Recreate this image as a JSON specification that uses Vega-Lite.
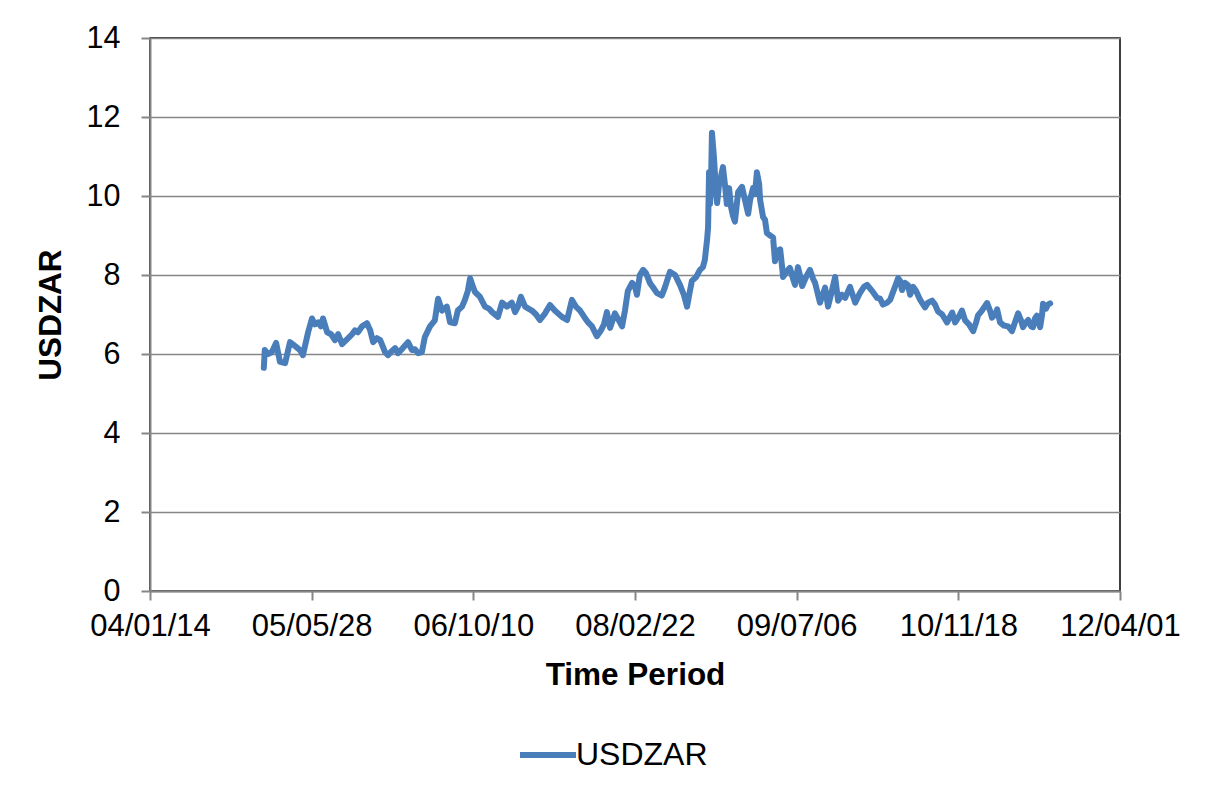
{
  "$schema": "https://vega.github.io/schema/vega-lite/v6.json",
  "width": 970,
  "height": 553,
  "autosize": {"type": "none"},
  "padding": {"left": 150, "top": 38, "right": 87, "bottom": 196},
  "background": "white",
  "config": {
    "font": "Liberation Sans",
    "view": {"stroke": "#000000", "strokeWidth": 1.5},
    "axis": {"labelColor": "#000000", "titleColor": "#000000", "labelFont": "Liberation Sans", "titleFont": "Liberation Sans"}
  },
  "data": {"values": [
    {"date":"2004-12-31","rate":5.65},{"date":"2005-01-03","rate":6.1},{"date":"2005-01-13","rate":6.0},{"date":"2005-01-25","rate":6.05},
    {"date":"2005-02-07","rate":6.28},{"date":"2005-02-19","rate":5.8},{"date":"2005-03-07","rate":5.77},{"date":"2005-03-22","rate":6.3},
    {"date":"2005-04-07","rate":6.2},{"date":"2005-04-22","rate":6.1},{"date":"2005-05-01","rate":5.97},{"date":"2005-05-17","rate":6.55},
    {"date":"2005-05-29","rate":6.9},{"date":"2005-06-07","rate":6.75},{"date":"2005-06-17","rate":6.8},{"date":"2005-06-26","rate":6.7},
    {"date":"2005-07-02","rate":6.9},{"date":"2005-07-15","rate":6.55},{"date":"2005-07-27","rate":6.5},{"date":"2005-08-08","rate":6.35},
    {"date":"2005-08-18","rate":6.5},{"date":"2005-08-30","rate":6.25},{"date":"2005-09-18","rate":6.4},{"date":"2005-09-30","rate":6.5},
    {"date":"2005-10-09","rate":6.6},{"date":"2005-10-18","rate":6.55},{"date":"2005-10-31","rate":6.7},{"date":"2005-11-15","rate":6.78},
    {"date":"2005-11-25","rate":6.6},{"date":"2005-12-04","rate":6.3},{"date":"2005-12-16","rate":6.4},{"date":"2005-12-26","rate":6.35},
    {"date":"2006-01-10","rate":6.05},{"date":"2006-01-19","rate":5.97},{"date":"2006-01-28","rate":6.05},{"date":"2006-02-10","rate":6.15},
    {"date":"2006-02-19","rate":6.02},{"date":"2006-03-06","rate":6.15},{"date":"2006-03-22","rate":6.3},{"date":"2006-04-03","rate":6.1},
    {"date":"2006-04-12","rate":6.12},{"date":"2006-04-22","rate":6.02},{"date":"2006-05-04","rate":6.05},{"date":"2006-05-13","rate":6.43},
    {"date":"2006-05-29","rate":6.7},{"date":"2006-06-13","rate":6.85},{"date":"2006-06-23","rate":7.4},{"date":"2006-07-05","rate":7.1},
    {"date":"2006-07-20","rate":7.2},{"date":"2006-07-30","rate":6.8},{"date":"2006-08-14","rate":6.78},{"date":"2006-08-23","rate":7.1},
    {"date":"2006-09-05","rate":7.2},{"date":"2006-09-14","rate":7.37},{"date":"2006-09-23","rate":7.6},{"date":"2006-09-30","rate":7.92},
    {"date":"2006-10-09","rate":7.7},{"date":"2006-10-15","rate":7.57},{"date":"2006-10-30","rate":7.45},{"date":"2006-11-15","rate":7.2},
    {"date":"2006-11-27","rate":7.15},{"date":"2006-12-07","rate":7.06},{"date":"2006-12-25","rate":6.94},{"date":"2007-01-07","rate":7.3},
    {"date":"2007-01-22","rate":7.2},{"date":"2007-02-06","rate":7.3},{"date":"2007-02-16","rate":7.06},{"date":"2007-02-25","rate":7.2},
    {"date":"2007-03-06","rate":7.45},{"date":"2007-03-19","rate":7.2},{"date":"2007-04-09","rate":7.1},{"date":"2007-04-22","rate":7.0},
    {"date":"2007-05-04","rate":6.86},{"date":"2007-05-20","rate":7.03},{"date":"2007-06-04","rate":7.24},{"date":"2007-06-19","rate":7.1},
    {"date":"2007-07-11","rate":6.94},{"date":"2007-07-27","rate":6.86},{"date":"2007-08-11","rate":7.37},{"date":"2007-08-23","rate":7.2},
    {"date":"2007-09-05","rate":7.1},{"date":"2007-09-17","rate":6.95},{"date":"2007-09-30","rate":6.8},{"date":"2007-10-12","rate":6.7},
    {"date":"2007-10-27","rate":6.45},{"date":"2007-11-09","rate":6.6},{"date":"2007-11-18","rate":6.75},{"date":"2007-11-27","rate":7.06},
    {"date":"2007-12-07","rate":6.66},{"date":"2007-12-22","rate":7.03},{"date":"2008-01-03","rate":6.85},{"date":"2008-01-13","rate":6.7},
    {"date":"2008-01-22","rate":7.1},{"date":"2008-01-31","rate":7.6},{"date":"2008-02-13","rate":7.8},{"date":"2008-02-22","rate":7.7},
    {"date":"2008-02-28","rate":7.5},{"date":"2008-03-08","rate":8.0},{"date":"2008-03-18","rate":8.13},{"date":"2008-03-27","rate":8.05},
    {"date":"2008-04-08","rate":7.8},{"date":"2008-04-21","rate":7.65},{"date":"2008-04-30","rate":7.54},{"date":"2008-05-15","rate":7.48},
    {"date":"2008-05-25","rate":7.7},{"date":"2008-06-09","rate":8.08},{"date":"2008-06-25","rate":8.0},{"date":"2008-07-10","rate":7.75},
    {"date":"2008-07-22","rate":7.5},{"date":"2008-08-01","rate":7.2},{"date":"2008-08-10","rate":7.6},{"date":"2008-08-16","rate":7.85},
    {"date":"2008-08-29","rate":7.95},{"date":"2008-09-10","rate":8.13},{"date":"2008-09-19","rate":8.2},{"date":"2008-09-25","rate":8.38},
    {"date":"2008-10-02","rate":8.9},{"date":"2008-10-05","rate":9.2},{"date":"2008-10-08","rate":10.6},{"date":"2008-10-11","rate":9.8},
    {"date":"2008-10-14","rate":10.3},{"date":"2008-10-17","rate":11.6},{"date":"2008-10-20","rate":11.3},{"date":"2008-10-23","rate":11.0},
    {"date":"2008-10-29","rate":10.2},{"date":"2008-11-02","rate":9.82},{"date":"2008-11-08","rate":10.3},{"date":"2008-11-14","rate":10.5},
    {"date":"2008-11-20","rate":10.73},{"date":"2008-11-26","rate":10.3},{"date":"2008-12-02","rate":9.8},{"date":"2008-12-09","rate":10.2},
    {"date":"2008-12-15","rate":9.72},{"date":"2008-12-21","rate":9.5},{"date":"2008-12-27","rate":9.35},{"date":"2009-01-06","rate":10.1},
    {"date":"2009-01-18","rate":10.23},{"date":"2009-01-27","rate":9.9},{"date":"2009-02-06","rate":9.55},{"date":"2009-02-12","rate":9.9},
    {"date":"2009-02-21","rate":10.2},{"date":"2009-02-27","rate":10.05},{"date":"2009-03-05","rate":10.6},{"date":"2009-03-12","rate":10.3},
    {"date":"2009-03-15","rate":9.9},{"date":"2009-03-24","rate":9.47},{"date":"2009-03-30","rate":9.4},{"date":"2009-04-05","rate":9.06},
    {"date":"2009-04-15","rate":9.0},{"date":"2009-04-24","rate":8.95},{"date":"2009-04-30","rate":8.35},{"date":"2009-05-06","rate":8.6},
    {"date":"2009-05-16","rate":8.65},{"date":"2009-05-22","rate":8.2},{"date":"2009-05-25","rate":7.95},{"date":"2009-06-06","rate":8.1},
    {"date":"2009-06-15","rate":8.18},{"date":"2009-06-25","rate":7.9},{"date":"2009-07-01","rate":7.75},{"date":"2009-07-10","rate":8.2},
    {"date":"2009-07-16","rate":8.0},{"date":"2009-07-23","rate":7.72},{"date":"2009-08-04","rate":7.95},{"date":"2009-08-16","rate":8.13},
    {"date":"2009-08-26","rate":7.9},{"date":"2009-09-01","rate":7.8},{"date":"2009-09-16","rate":7.3},{"date":"2009-10-02","rate":7.68},
    {"date":"2009-10-11","rate":7.2},{"date":"2009-10-23","rate":7.6},{"date":"2009-11-02","rate":7.95},{"date":"2009-11-11","rate":7.35},
    {"date":"2009-11-23","rate":7.5},{"date":"2009-12-03","rate":7.42},{"date":"2009-12-18","rate":7.7},{"date":"2010-01-03","rate":7.3},
    {"date":"2010-01-18","rate":7.55},{"date":"2010-01-30","rate":7.7},{"date":"2010-02-09","rate":7.75},{"date":"2010-02-24","rate":7.6},
    {"date":"2010-03-12","rate":7.42},{"date":"2010-03-21","rate":7.4},{"date":"2010-03-30","rate":7.25},{"date":"2010-04-12","rate":7.3},
    {"date":"2010-04-21","rate":7.37},{"date":"2010-05-06","rate":7.7},{"date":"2010-05-16","rate":7.92},{"date":"2010-05-22","rate":7.85},
    {"date":"2010-05-28","rate":7.62},{"date":"2010-06-06","rate":7.8},{"date":"2010-06-15","rate":7.75},{"date":"2010-06-22","rate":7.5},
    {"date":"2010-07-01","rate":7.7},{"date":"2010-07-10","rate":7.6},{"date":"2010-07-23","rate":7.37},{"date":"2010-08-07","rate":7.18},
    {"date":"2010-08-16","rate":7.3},{"date":"2010-08-29","rate":7.35},{"date":"2010-09-07","rate":7.25},{"date":"2010-09-16","rate":7.08},
    {"date":"2010-09-29","rate":7.0},{"date":"2010-10-14","rate":6.8},{"date":"2010-10-30","rate":7.05},{"date":"2010-11-08","rate":6.8},
    {"date":"2010-11-20","rate":6.95},{"date":"2010-11-29","rate":7.1},{"date":"2010-12-09","rate":6.85},{"date":"2010-12-21","rate":6.75},
    {"date":"2011-01-03","rate":6.58},{"date":"2011-01-12","rate":6.8},{"date":"2011-01-18","rate":6.98},{"date":"2011-01-30","rate":7.1},
    {"date":"2011-02-15","rate":7.29},{"date":"2011-02-24","rate":7.1},{"date":"2011-03-02","rate":6.92},{"date":"2011-03-12","rate":7.0},
    {"date":"2011-03-18","rate":7.13},{"date":"2011-03-27","rate":6.8},{"date":"2011-04-08","rate":6.72},{"date":"2011-04-21","rate":6.7},
    {"date":"2011-05-03","rate":6.58},{"date":"2011-05-12","rate":6.8},{"date":"2011-05-22","rate":7.03},{"date":"2011-05-31","rate":6.85},
    {"date":"2011-06-06","rate":6.68},{"date":"2011-06-15","rate":6.8},{"date":"2011-06-22","rate":6.86},{"date":"2011-07-01","rate":6.7},
    {"date":"2011-07-07","rate":6.68},{"date":"2011-07-13","rate":6.9},{"date":"2011-07-19","rate":6.97},{"date":"2011-07-26","rate":6.75},
    {"date":"2011-07-29","rate":6.68},{"date":"2011-08-04","rate":7.0},{"date":"2011-08-07","rate":7.27},{"date":"2011-08-16","rate":7.15},
    {"date":"2011-08-22","rate":7.25},{"date":"2011-08-29","rate":7.28}
  ]},
  "mark": {"type": "line", "strokeWidth": 6, "strokeJoin": "round", "strokeCap": "round"},
  "encoding": {
    "x": {
      "field": "date", "type": "temporal",
      "scale": {"type": "utc", "nice": false, "domain": [{"year": 2004, "month": 1, "date": 14, "utc": true}, {"year": 2012, "month": 4, "date": 1, "utc": true}]},
      "axis": {
        "title": "Time Period",
        "values": [
          {"year": 2004, "month": 1, "date": 14, "utc": true},
          {"year": 2005, "month": 5, "date": 28, "utc": true},
          {"year": 2006, "month": 10, "date": 10, "utc": true},
          {"year": 2008, "month": 2, "date": 22, "utc": true},
          {"year": 2009, "month": 7, "date": 6, "utc": true},
          {"year": 2010, "month": 11, "date": 18, "utc": true},
          {"year": 2012, "month": 4, "date": 1, "utc": true}
        ],
        "labelExpr": "utcFormat(datum.value, '%y/%m/%d')",
        "grid": false,
        "domainColor": "#868686", "domainWidth": 2,
        "tickColor": "#868686", "tickWidth": 2, "tickSize": 9,
        "labelFontSize": 31, "labelPadding": 11, "labelOverlap": false, "labelFlush": false,
        "titleFontSize": 31.5, "titleFontWeight": "bold", "titlePadding": 18,
        "zindex": 1
      }
    },
    "y": {
      "field": "rate", "type": "quantitative",
      "scale": {"domain": [0, 14], "nice": false, "zero": true},
      "axis": {
        "title": "USDZAR",
        "values": [0, 2, 4, 6, 8, 10, 12, 14],
        "grid": true, "gridColor": "#868686", "gridWidth": 1.5,
        "domainColor": "#868686", "domainWidth": 2,
        "tickColor": "#868686", "tickWidth": 2, "tickSize": 9,
        "labelFontSize": 30.5, "labelPadding": 21,
        "titleFontSize": 31.5, "titleFontWeight": "bold", "titlePadding": 19,
        "zindex": 0
      }
    },
    "color": {
      "datum": "USDZAR", "type": "nominal",
      "scale": {"range": ["#4A7EBB"]},
      "legend": {
        "title": null, "orient": "none", "legendX": 367, "legendY": 686,
        "symbolType": "stroke", "symbolSize": 3136, "symbolStrokeWidth": 6,
        "labelFontSize": 32, "labelColor": "#000000", "labelOffset": -3, "padding": 0
      }
    }
  }
}
